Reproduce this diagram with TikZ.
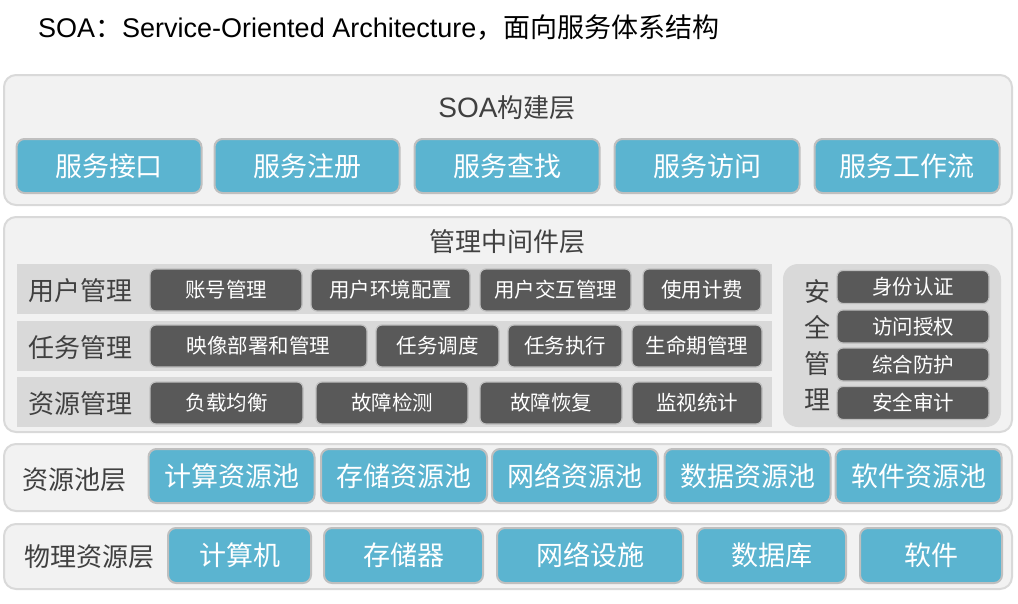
\documentclass[tikz,border=0pt]{standalone}
\usepackage{fontspec}
\setmainfont{Noto Sans CJK SC}
\newfontfamily\latin{Liberation Sans}
\usepackage{tikz}

\definecolor{layerbg}{HTML}{F2F2F2}
\definecolor{layerline}{HTML}{D9D9D9}
\definecolor{bandbg}{HTML}{D9D9D9}
\definecolor{bluebox}{HTML}{5BB4D0}
\definecolor{darkbox}{HTML}{595959}
\definecolor{boxline}{HTML}{BFBFBF}
\definecolor{labeltext}{HTML}{404040}

\begin{document}
\begin{tikzpicture}[x=1pt, y=-1pt,
    layer/.style={rectangle, rounded corners=12pt, draw=layerline, fill=layerbg, line width=2pt},
    band/.style={rectangle, fill=bandbg, inner sep=0pt},
    blue/.style={rectangle, rounded corners=8pt, draw=boxline, fill=bluebox, line width=2pt,
      text=white, minimum height=54pt, inner sep=0pt, font=\fontsize{27}{30}\selectfont},
    dark/.style={rectangle, rounded corners=6pt, draw=boxline, fill=darkbox, line width=1.2pt,
      text=white, minimum height=42pt, inner sep=0pt, font=\fontsize{20.5}{24}\selectfont},
    title/.style={text=labeltext, inner sep=0pt, font=\fontsize{26}{30}\selectfont}]
      \useasboundingbox (0,0) rectangle (1018,603);

      \node (head) at (38,28) [anchor=west, inner sep=0pt, font=\fontsize{27}{30}\selectfont]
        {{\latin SOA}：{\latin Service-Oriented Architecture}，面向服务体系结构};

      % layers
      \node (L1) at (508,140) [layer, minimum width=1008pt, minimum height=130pt] {};
      \node (L2) at (508,324.5) [layer, minimum width=1008pt, minimum height=215pt] {};
      \node (L3) at (508,477.5) [layer, minimum width=1008pt, minimum height=67pt] {};
      \node (L4) at (508,556.5) [layer, minimum width=1008pt, minimum height=65pt] {};

      % SOA layer
      \node (t1) at (507,108) [title] {{\latin\fontsize{28}{30}\selectfont SOA}构建层};
      \begin{scope}[every node/.style={blue, minimum width=185pt}]
        \node (s1) at (109,166) {服务接口};
        \node (s2) at (307,166) {服务注册};
        \node (s3) at (507,166) {服务查找};
        \node (s4) at (707,166) {服务访问};
        \node (s5) at (907,166) {服务工作流};
      \end{scope}

      % middleware layer
      \node (t2) at (507,242) [title] {管理中间件层};
      \begin{scope}[every node/.style={band, minimum width=755pt, minimum height=50pt}]
        \node (b1) at (394.5,289) {};
        \node (b2) at (394.5,346) {};
        \node (b3) at (394.5,402) {};
      \end{scope}
      \node (b4) at (892,345.5) [band, rounded corners=15pt, minimum width=218pt, minimum height=163pt] {};

      \node (r1) at (80.5,291) [title] {用户管理};
      \node (r2) at (80.5,348) [title] {任务管理};
      \node (r3) at (80.5,404) [title] {资源管理};
      \node (r4) at (817,345) [title, align=center, font=\fontsize{26}{36}\selectfont] {安\\全\\管\\理};

      \begin{scope}[every node/.style=dark]
        \node (u1) at (226,290) [minimum width=152pt] {账号管理};
        \node (u2) at (390.5,290) [minimum width=159pt] {用户环境配置};
        \node (u3) at (555.5,290) [minimum width=151pt] {用户交互管理};
        \node (u4) at (702,290) [minimum width=118pt] {使用计费};

        \node (m1) at (258.5,346) [minimum width=217pt] {映像部署和管理};
        \node (m2) at (437.5,346) [minimum width=123pt] {任务调度};
        \node (m3) at (565,346) [minimum width=114pt] {任务执行};
        \node (m4) at (697,346) [minimum width=130pt] {生命期管理};

        \node (z1) at (226.5,403) [minimum width=153pt] {负载均衡};
        \node (z2) at (392,403) [minimum width=152pt] {故障检测};
        \node (z3) at (551,403) [minimum width=142pt] {故障恢复};
        \node (z4) at (697,403) [minimum width=130pt] {监视统计};
      \end{scope}

      \begin{scope}[every node/.style={dark, minimum width=152pt, minimum height=33pt}]
        \node (a1) at (913,287) {身份认证};
        \node (a2) at (913,326.5) {访问授权};
        \node (a3) at (913,364.5) {综合防护};
        \node (a4) at (913,403) {安全审计};
      \end{scope}

      % resource pool layer
      \node (t3) at (75,480) [title] {资源池层};
      \begin{scope}[every node/.style={blue, minimum width=166pt}]
        \node (p1) at (231.5,476) {计算资源池};
        \node (p2) at (404,476) {存储资源池};
        \node (p3) at (575,476) {网络资源池};
        \node (p4) at (747.5,476) {数据资源池};
        \node (p5) at (918.5,476) {软件资源池};
      \end{scope}

      % physical layer
      \node (t4) at (89.5,557) [title] {物理资源层};
      \begin{scope}[every node/.style={blue, minimum height=55pt}]
        \node (h1) at (239.5,555.5) [minimum width=143pt] {计算机};
        \node (h2) at (403.5,555.5) [minimum width=159pt] {存储器};
        \node (h3) at (590,555.5) [minimum width=186pt] {网络设施};
        \node (h4) at (771.5,555.5) [minimum width=149pt] {数据库};
        \node (h5) at (931,555.5) [minimum width=142pt] {软件};
      \end{scope}
   \end{tikzpicture}
\end{document}
